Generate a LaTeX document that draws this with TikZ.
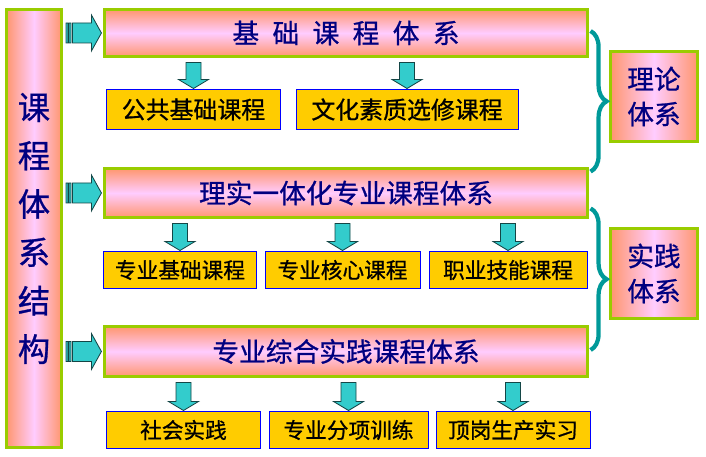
\documentclass[tikz,border=0pt]{standalone}
\usepackage{fontspec}
\newfontfamily\cjk[FakeBold=0.8]{Noto Sans CJK SC}
\usepackage{tikz}
\usetikzlibrary{positioning,calc,decorations.pathreplacing}
\definecolor{navytxt}{RGB}{0,0,128}
\definecolor{limeline}{RGB}{153,204,0}
\definecolor{salmonc}{RGB}{255,150,110}
\definecolor{pinkmid}{RGB}{255,204,255}
\definecolor{goldbox}{RGB}{255,204,0}
\definecolor{bluebox}{RGB}{0,0,255}
\definecolor{arrfill}{RGB}{51,204,204}
\definecolor{arrline}{RGB}{20,70,70}
\definecolor{bracecol}{RGB}{0,153,153}

\tikzset{
  fatdown/.style={to path={($(\tikztostart)+(-7.5,4.5)$) -- ($(\tikztotarget)+(-7.5,-10)$) -- ($(\tikztotarget)+(-15,-10)$) -- ($(\tikztotarget)+(0,-1)$) -- ($(\tikztotarget)+(15,-10)$) -- ($(\tikztotarget)+(7.5,-10)$) -- ($(\tikztostart)+(7.5,4.5)$) -- cycle}},
  fatright/.style={to path={($(\tikztostart)+(3,-10)$) rectangle ($(\tikztostart)+(5,10)$) ($(\tikztostart)+(6,-10)$) rectangle ($(\tikztostart)+(8,10)$) ($(\tikztostart)+(9.5,-10)$) -- ($(\tikztotarget)+(-11.5,-10)$) -- ($(\tikztotarget)+(-11.5,-18)$) -- ($(\tikztotarget)+(-1.5,0)$) -- ($(\tikztotarget)+(-11.5,18)$) -- ($(\tikztotarget)+(-11.5,10)$) -- ($(\tikztostart)+(9.5,10)$) -- cycle}}
}

\begin{document}
\begin{tikzpicture}[x=0.025cm,y=-0.025cm]
  \tikzstyle{sidebox}=[rectangle,draw=limeline,line width=2pt,left color=salmonc,right color=salmonc,middle color=pinkmid,align=center,text=navytxt,font=\cjk\fontsize{23}{34.4}\selectfont]
  \tikzstyle{sysbox}=[sidebox,minimum width=2.18cm,minimum height=2.255cm,font=\cjk\fontsize{19}{24.9}\selectfont]
  \tikzstyle{mainbox}=[rectangle,draw=limeline,line width=2pt,top color=salmonc,bottom color=salmonc,middle color=pinkmid,minimum width=12.08cm,text=navytxt,font=\cjk\fontsize{19}{23}\selectfont]
  \tikzstyle{subbox}=[rectangle,draw=bluebox,line width=0.7pt,fill=goldbox,minimum height=0.9cm,font=\cjk\fontsize{15.4}{18}\selectfont]
  \tikzstyle{blkarrow}=[draw=arrline,line width=0.6pt,fill=arrfill,line join=miter]
  \tikzstyle{curly}=[draw=bracecol,line width=3pt,decorate,decoration={brace,amplitude=0.4cm}]
  \useasboundingbox (0,0) rectangle (706,457);

  % left column and the three systems
  \node[sidebox,minimum width=1.38cm,minimum height=10.95cm] (side) at (34,228.5) {课\\程\\体\\系\\结\\构};
  \node[mainbox,minimum height=1.18cm] (base) at (346,33) {基\hspace{.5em}础\hspace{.5em}课\hspace{.5em}程\hspace{.5em}体\hspace{.5em}系};
  \node[mainbox,minimum height=1.23cm] (mid) at (346,193) {理实一体化专业课程体系};
  \node[mainbox,minimum height=1.255cm] (prac) at (346,351.5) {专业综合实践课程体系};
  \node[sysbox] (theory) at (654,96.5) {理论\\体系};
  \node[sysbox] (practice) at (654,273.5) {实践\\体系};

  % course rows
  \node[subbox,minimum width=4.325cm,minimum height=0.975cm,font=\cjk\fontsize{17}{20}\selectfont] (gong) at (193.5,109.5) {公共基础课程};
  \node[subbox,minimum width=5.55cm,minimum height=0.975cm,font=\cjk\fontsize{17}{20}\selectfont,right=0.375cm of gong] (wenhua) {文化素质选修课程};
  \node[subbox,minimum width=3.8cm] (zyjc) at (180,270) {专业基础课程};
  \node[subbox,minimum width=3.875cm,right=0.2cm of zyjc] (hexin) {专业核心课程};
  \node[subbox,minimum width=3.95cm,right=0.2cm of hexin] (jineng) {职业技能课程};
  \node[subbox,minimum width=3.825cm] (shehui) at (183.5,430) {社会实践};
  \node[subbox,minimum width=3.975cm,right=0.2cm of shehui] (fenxiang) {专业分项训练};
  \node[subbox,minimum width=3.85cm,right=0.175cm of fenxiang] (dinggang) {顶岗生产实习};

  % block arrows
  \draw[blkarrow,fatright] (side.east |- base.west) to (base.west);
  \draw[blkarrow,fatright] (side.east |- mid.west) to (mid.west);
  \draw[blkarrow,fatright] (side.east |- prac.west) to (prac.west);
  \draw[blkarrow,fatdown] (base.south -| gong.north) to (gong.north);
  \draw[blkarrow,fatdown] (base.south -| wenhua.north) to (wenhua.north);
  \draw[blkarrow,fatdown] (mid.south -| zyjc.north) to (zyjc.north);
  \draw[blkarrow,fatdown] (mid.south -| hexin.north) to (hexin.north);
  \draw[blkarrow,fatdown] (mid.south -| jineng.north) to (jineng.north);
  \draw[blkarrow,fatdown] (prac.south -| shehui.north) to (shehui.north);
  \draw[blkarrow,fatdown] (prac.south -| fenxiang.north) to (fenxiang.north);
  \draw[blkarrow,fatdown] (prac.south -| dinggang.north) to (dinggang.north);

  % braces
  \draw[curly] ($(base.east)+(1.5,-2)$) -- ($(mid.north east)+(1.5,4.6)$);
  \draw[curly] ($(mid.south east)+(1.5,-10.6)$) -- ($(prac.east)+(1.5,-1.5)$);
\end{tikzpicture}
\end{document}
